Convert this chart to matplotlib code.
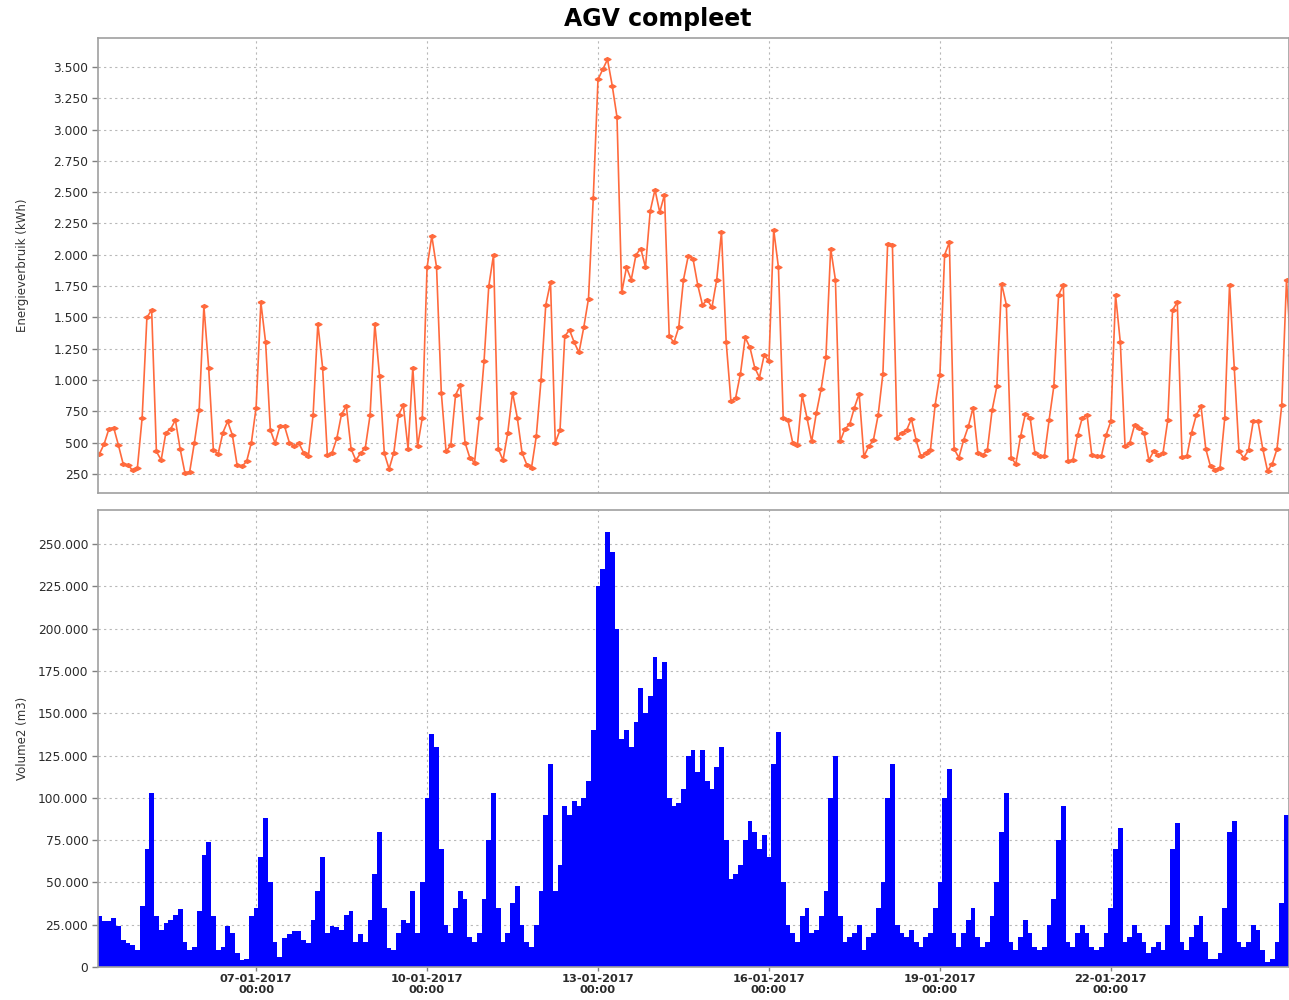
import matplotlib
matplotlib.use('Agg')
import matplotlib.pyplot as plt
import matplotlib.dates as mdates
from matplotlib.ticker import FuncFormatter, MultipleLocator
import pandas as pd

# meetwaarden per 2 uur, vanaf 04-01-2017 06:00
start = '2017-01-04 06:00'

energie = [
    410, 490, 610, 620, 480, 330, 320, 280, 300, 700, 1500, 1560,
    430, 360, 580, 610, 680, 450, 260, 265, 500, 760, 1590, 1100,
    440, 410, 580, 670, 560, 320, 310, 350, 500, 780, 1620, 1300,
    600, 495, 630, 630, 500, 470, 495, 420, 390, 720, 1450, 1100,
    400, 420, 535, 730, 790, 450, 360, 415, 460, 720, 1450, 1030,
    415, 290, 420, 720, 800, 450, 1100, 470, 700, 1900, 2150, 1900,
    900, 430, 480, 880, 960, 500, 380, 340, 700, 1150, 1750, 2000,
    450, 360, 580, 900, 700, 420, 325, 300, 550, 1000, 1600, 1780,
    500, 600, 1350, 1400, 1300, 1220, 1420, 1650, 2450, 3400, 3480, 3560,
    3350, 3100, 1700, 1900, 1800, 2000, 2050, 1900, 2350, 2520, 2340, 2480,
    1350, 1300, 1420, 1800, 1990, 1970, 1760, 1600, 1640, 1580, 1800, 2180,
    1300, 830, 860, 1050, 1340, 1260, 1100, 1020, 1200, 1150, 2200, 1900,
    700, 680, 500, 480, 880, 700, 510, 740, 930, 1180, 2050, 1800,
    510, 610, 645, 780, 890, 390, 470, 520, 720, 1050, 2090, 2080,
    540, 580, 600, 690, 520, 390, 415, 440, 800, 1040, 2000, 2100,
    450, 380, 520, 630, 780, 420, 400, 440, 760, 950, 1770, 1600,
    380, 330, 550, 730, 700, 420, 390, 390, 680, 950, 1680, 1760,
    350, 360, 560, 700, 720, 400, 390, 390, 560, 670, 1680, 1300,
    470, 500, 640, 616, 580, 360, 430, 400, 420, 680, 1560, 1620,
    389, 390, 580, 720, 790, 450, 310, 285, 300, 700, 1760, 1100,
    430, 380, 440, 670, 670, 450, 275, 330, 450, 800, 1800, 1200,
]

volume = [
    30000, 26900, 26900, 28900, 24000, 16000, 14000, 13000, 10000, 36000, 70000, 103000,
    30000, 22000, 26000, 27500, 31000, 34000, 15000, 10000, 12000, 33000, 66000, 74000,
    30000, 10000, 12000, 24500, 20000, 8000, 4000, 5000, 30000, 35000, 65000, 88000,
    50000, 15000, 6000, 17000, 19500, 21000, 21000, 16000, 14000, 28000, 45000, 65000,
    20000, 24000, 23500, 22000, 31000, 33000, 15000, 19500, 15000, 28000, 55000, 80000,
    35000, 11000, 10000, 20000, 28000, 26000, 45000, 20000, 50000, 100000, 138000, 130000,
    70000, 25000, 20000, 35000, 45000, 40000, 18000, 15000, 20000, 40000, 75000, 103000,
    35000, 15000, 20000, 38000, 48000, 25000, 15000, 12000, 25000, 45000, 90000, 120000,
    45000, 60000, 95000, 90000, 98000, 95000, 100000, 110000, 140000, 225000, 235000, 257000,
    245000, 200000, 135000, 140000, 130000, 145000, 165000, 150000, 160000, 183000, 170000, 180000,
    100000, 95000, 97000, 105000, 125000, 128000, 115000, 128000, 110000, 105000, 118000, 130000,
    75000, 52000, 55000, 60000, 75000, 86000, 80000, 70000, 78000, 65000, 120000, 139000,
    50000, 25000, 20000, 15000, 30000, 35000, 20000, 22000, 30000, 45000, 100000, 125000,
    30000, 15000, 18000, 20000, 25000, 10000, 18000, 20000, 35000, 50000, 100000, 120000,
    25000, 20000, 18000, 22000, 15000, 12000, 18000, 20000, 35000, 50000, 100000, 117000,
    20000, 12000, 20000, 28000, 35000, 18000, 12000, 15000, 30000, 50000, 80000, 103000,
    15000, 10000, 18000, 28000, 20000, 12000, 10000, 12000, 25000, 40000, 75000, 95000,
    15000, 12000, 20000, 25000, 20000, 12000, 10000, 12000, 20000, 35000, 70000, 82000,
    15000, 18000, 25000, 20000, 15000, 8000, 12000, 15000, 10000, 25000, 70000, 85000,
    15000, 10000, 18000, 25000, 30000, 15000, 5000, 5000, 8000, 35000, 80000, 86000,
    15000, 12000, 15000, 25000, 22000, 10000, 3000, 5000, 15000, 38000, 90000, 90000,
]

tijd = pd.date_range(start, periods=len(energie), freq='2h')
tick_dagen = [7, 10, 13, 16, 19, 22]

plt.rcParams['font.family'] = ['DejaVu Sans']

# punt als duizendtal-scheiding
nl_fmt = FuncFormatter(lambda v, p: '{:,.0f}'.format(v).replace(',', '.'))

fig = plt.figure(figsize=(12.89, 10), dpi=100, facecolor='w')
ax1 = fig.add_axes([98 / 1289, 1 - 493 / 1000, 1 - 98 / 1289, 455 / 1000])
ax2 = fig.add_axes([98 / 1289, 1 - 967 / 1000, 1 - 98 / 1289, 457 / 1000], sharex=ax1)

ruit = [(-1, 0), (0, 0.55), (1, 0), (0, -0.55), (-1, 0)]
ax1.plot(tijd, energie, color='#ff6a3d', lw=1.2, marker=ruit, ms=5,
         mfc='#ff6a3d', mec='#ff6a3d')
ax2.bar(tijd, volume, width=2 / 24, color='#0000ff', edgecolor='none', linewidth=0)

ax1.set_ylim(98, 3731)
ax1.yaxis.set_major_locator(MultipleLocator(250))
ax2.set_ylim(0, 270100)
ax2.yaxis.set_major_locator(MultipleLocator(25000))

ax2.set_xlim(pd.Timestamp('2017-01-04 05:24'), pd.Timestamp('2017-01-25 03:03'))
ax2.xaxis.set_major_locator(mdates.DayLocator(bymonthday=tick_dagen))
ax2.xaxis.set_major_formatter(mdates.DateFormatter('%d-%m-%Y\n%H:%M'))

for ax in (ax1, ax2):
    ax.yaxis.set_major_formatter(nl_fmt)
    ax.grid(True, color='#b8b8b8', lw=0.8, linestyle=(0, (2, 3)))
    ax.set_axisbelow(True)
    for s in ax.spines.values():
        s.set_color('#a0a0a0')
        s.set_linewidth(1.2)
    ax.tick_params(axis='y', length=4, width=1, color='#808080',
                   labelsize=8.8, labelcolor='#2a2a2a', pad=3)
    ax.tick_params(axis='x', length=3, width=1, color='#808080',
                   labelsize=8.2, labelcolor='#2a2a2a', pad=2)

ax1.tick_params(axis='x', labelbottom=False, length=0)
fig.canvas.draw()
for lbl in ax2.get_xticklabels():
    lbl.set_fontweight('bold')
    lbl.set_linespacing(1.1)

ax1.set_ylabel('Energieverbruik (kWh)', fontsize=8.5, color='#333333')
ax2.set_ylabel('Volume2 (m3)', fontsize=8.5, color='#333333')
ax1.yaxis.set_label_coords(-0.058, 0.5)
ax2.yaxis.set_label_coords(-0.058, 0.5)

fig.text(0.51, 0.981, 'AGV compleet', ha='center', va='center',
         fontsize=17, fontweight='bold')

plt.savefig('out.png', dpi=100, facecolor='w')
